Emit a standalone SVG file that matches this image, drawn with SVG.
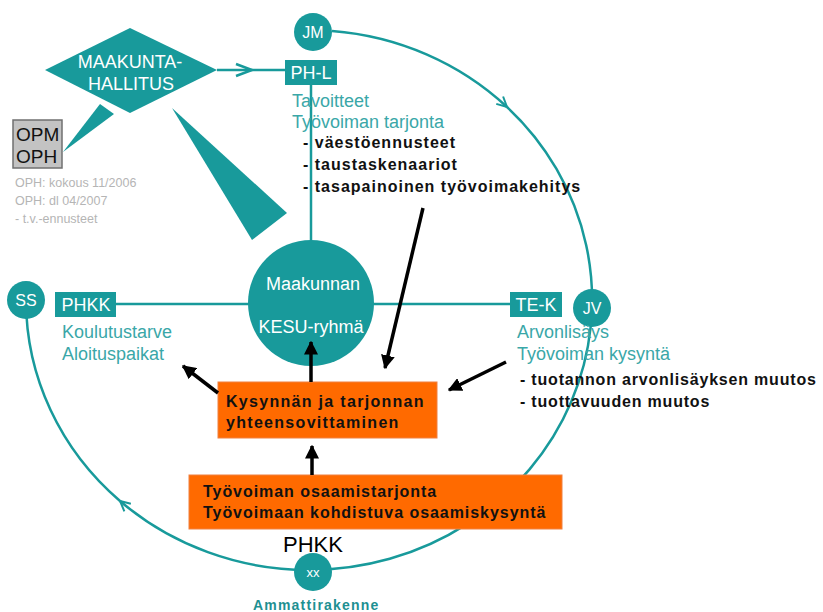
<svg xmlns="http://www.w3.org/2000/svg" width="823" height="612" viewBox="0 0 823 612">
<style>
.teal{fill:#189a9b}
.wt{fill:#ffffff;font-family:"Liberation Sans",Arial,sans-serif;text-anchor:middle}
.tt{fill:#3aa7a8;font-family:"Liberation Sans",Arial,sans-serif;font-size:18px}
.bk{fill:#111111;font-family:"Liberation Sans",Arial,sans-serif;font-size:16px;font-weight:bold}
.gr{fill:#b5b5b5;font-family:"Liberation Sans",Arial,sans-serif;font-size:12.5px}
.arc{fill:none;stroke:#189a9b;stroke-width:2.5}
.tl{fill:none;stroke:#189a9b;stroke-width:2.5}
.ba{fill:none;stroke:#000000;stroke-width:3.5}
.box{fill:#ff6a00;stroke:#f08040;stroke-width:1}
</style>
<defs>
<marker id="chev" viewBox="0 0 12 12" refX="11" refY="6" markerWidth="12" markerHeight="12" markerUnits="userSpaceOnUse" orient="auto">
<path d="M1,1 L11,6 L1,11" fill="none" stroke="#189a9b" stroke-width="2"/>
</marker>
<marker id="blk" viewBox="0 0 10 10" refX="9" refY="5" markerWidth="4" markerHeight="4" orient="auto">
<path d="M0,0 L10,5 L0,10 Z" fill="#000000"/>
</marker>
</defs>

<g id="connectors">
<path class="arc" d="M332,31 A283 270 0 0 1 507,107" marker-end="url(#chev)"/>
<path class="arc" d="M507,107 A283 270 0 0 1 309,570"/>
<path class="arc" d="M309,570 A283 270 0 0 1 120,501" marker-end="url(#chev)"/>
<path class="arc" d="M120,501 A283 270 0 0 1 26,300"/>
<path class="tl" d="M217,70 L285,70"/>
<path d="M236,64 L252,70 L236,76" fill="none" stroke="#189a9b" stroke-width="2.5"/>
<path class="tl" d="M311,85 L311,245"/>
<path class="tl" d="M116,304 L510,304"/>
</g>

<g id="maakuntahallitus">
<polygon class="teal" points="45,70 130,28 217,70 130,113"/>
<text class="wt" x="130" y="68" font-size="18">MAAKUNTA-</text>
<text class="wt" x="131" y="90" font-size="18">HALLITUS</text>
</g>

<g id="wedges">
<polygon class="teal" points="100,104 114,114 63,152"/>
<polygon class="teal" points="172,108 287,213 252,240"/>
</g>

<g id="opm">
<rect x="13" y="120" width="49" height="48" fill="#c3c3c3" stroke="#707070" stroke-width="1.5"/>
<text x="16" y="141" font-family="Liberation Sans,Arial,sans-serif" font-size="19" fill="#111">OPM</text>
<text x="16" y="163" font-family="Liberation Sans,Arial,sans-serif" font-size="19" fill="#111">OPH</text>
</g>

<g id="opm-notes">
<text class="gr" x="15" y="187">OPH: kokous 11/2006</text>
<text class="gr" x="15" y="205">OPH: dl 04/2007</text>
<text class="gr" x="15" y="223">- t.v.-ennusteet</text>
</g>

<g id="jm">
<circle class="teal" cx="313" cy="32" r="19"/>
<text class="wt" x="313" y="38" font-size="16">JM</text>
</g>

<g id="phl">
<rect class="teal" x="285" y="60" width="52" height="25"/>
<text class="wt" x="311" y="79" font-size="18">PH-L</text>
</g>

<g id="phl-text">
<text class="tt" x="292" y="107">Tavoitteet</text>
<text class="tt" x="292" y="128">Työvoiman tarjonta</text>
<text class="bk" x="303" y="148" letter-spacing="1">- väestöennusteet</text>
<text class="bk" x="303" y="170" letter-spacing="1">- taustaskenaariot</text>
<text class="bk" x="303" y="192" letter-spacing="1">- tasapainoinen työvoimakehitys</text>
</g>

<g id="kesu">
<circle class="teal" cx="311" cy="303" r="63"/>
<text class="wt" x="313" y="290" font-size="18">Maakunnan</text>
<text class="wt" x="311" y="333" font-size="18">KESU-ryhmä</text>
</g>

<g id="ss">
<circle class="teal" cx="26" cy="300" r="19"/>
<text class="wt" x="26" y="306" font-size="16">SS</text>
</g>

<g id="phkk">
<rect class="teal" x="55" y="292" width="61" height="25"/>
<text class="wt" x="86" y="311" font-size="18">PHKK</text>
<text class="tt" x="62" y="338">Koulutustarve</text>
<text class="tt" x="62" y="360">Aloituspaikat</text>
</g>

<g id="tek">
<rect class="teal" x="510" y="292" width="52" height="25"/>
<text class="wt" x="536" y="311" font-size="18">TE-K</text>
</g>

<g id="jv">
<circle class="teal" cx="592" cy="308" r="19"/>
<text class="wt" x="592" y="314" font-size="16">JV</text>
</g>

<g id="tek-text">
<text class="tt" x="517" y="338">Arvonlisäys</text>
<text class="tt" x="517" y="360">Työvoiman kysyntä</text>
<text class="bk" x="520" y="385" letter-spacing="0.8">- tuotannon arvonlisäyksen muutos</text>
<text class="bk" x="520" y="407" letter-spacing="0.8">- tuottavuuden muutos</text>
</g>

<g id="kysynta">
<rect class="box" x="218" y="382" width="219" height="56"/>
<text class="bk" x="226" y="407" letter-spacing="1.3">Kysynnän ja tarjonnan</text>
<text class="bk" x="226" y="428" letter-spacing="1.3">yhteensovittaminen</text>
</g>

<g id="osaaminen">
<rect class="box" x="189" y="475" width="373" height="54"/>
<text class="bk" x="203" y="497" letter-spacing="0.95">Työvoiman osaamistarjonta</text>
<text class="bk" x="203" y="518" letter-spacing="0.95">Työvoimaan kohdistuva osaamiskysyntä</text>
</g>

<g id="xx">
<text x="283" y="552" font-family="Liberation Sans,Arial,sans-serif" font-size="22" fill="#000">PHKK</text>
<circle class="teal" cx="313" cy="572" r="19"/>
<text class="wt" x="313" y="577" font-size="13">xx</text>
<text x="253" y="610" font-family="Liberation Sans,Arial,sans-serif" font-size="14" font-weight="bold" letter-spacing="1.2" fill="#1e9092">Ammattirakenne</text>
</g>

<g id="arrows">
<path class="ba" d="M311,382 L311,342" marker-end="url(#blk)"/>
<path class="ba" d="M423,208 L385,368" marker-end="url(#blk)"/>
<path class="ba" d="M312,475 L312,446" marker-end="url(#blk)"/>
<path class="ba" d="M218,393 L183,366" marker-end="url(#blk)"/>
<path class="ba" d="M506,362 L449,390" marker-end="url(#blk)"/>
</g>
</svg>
